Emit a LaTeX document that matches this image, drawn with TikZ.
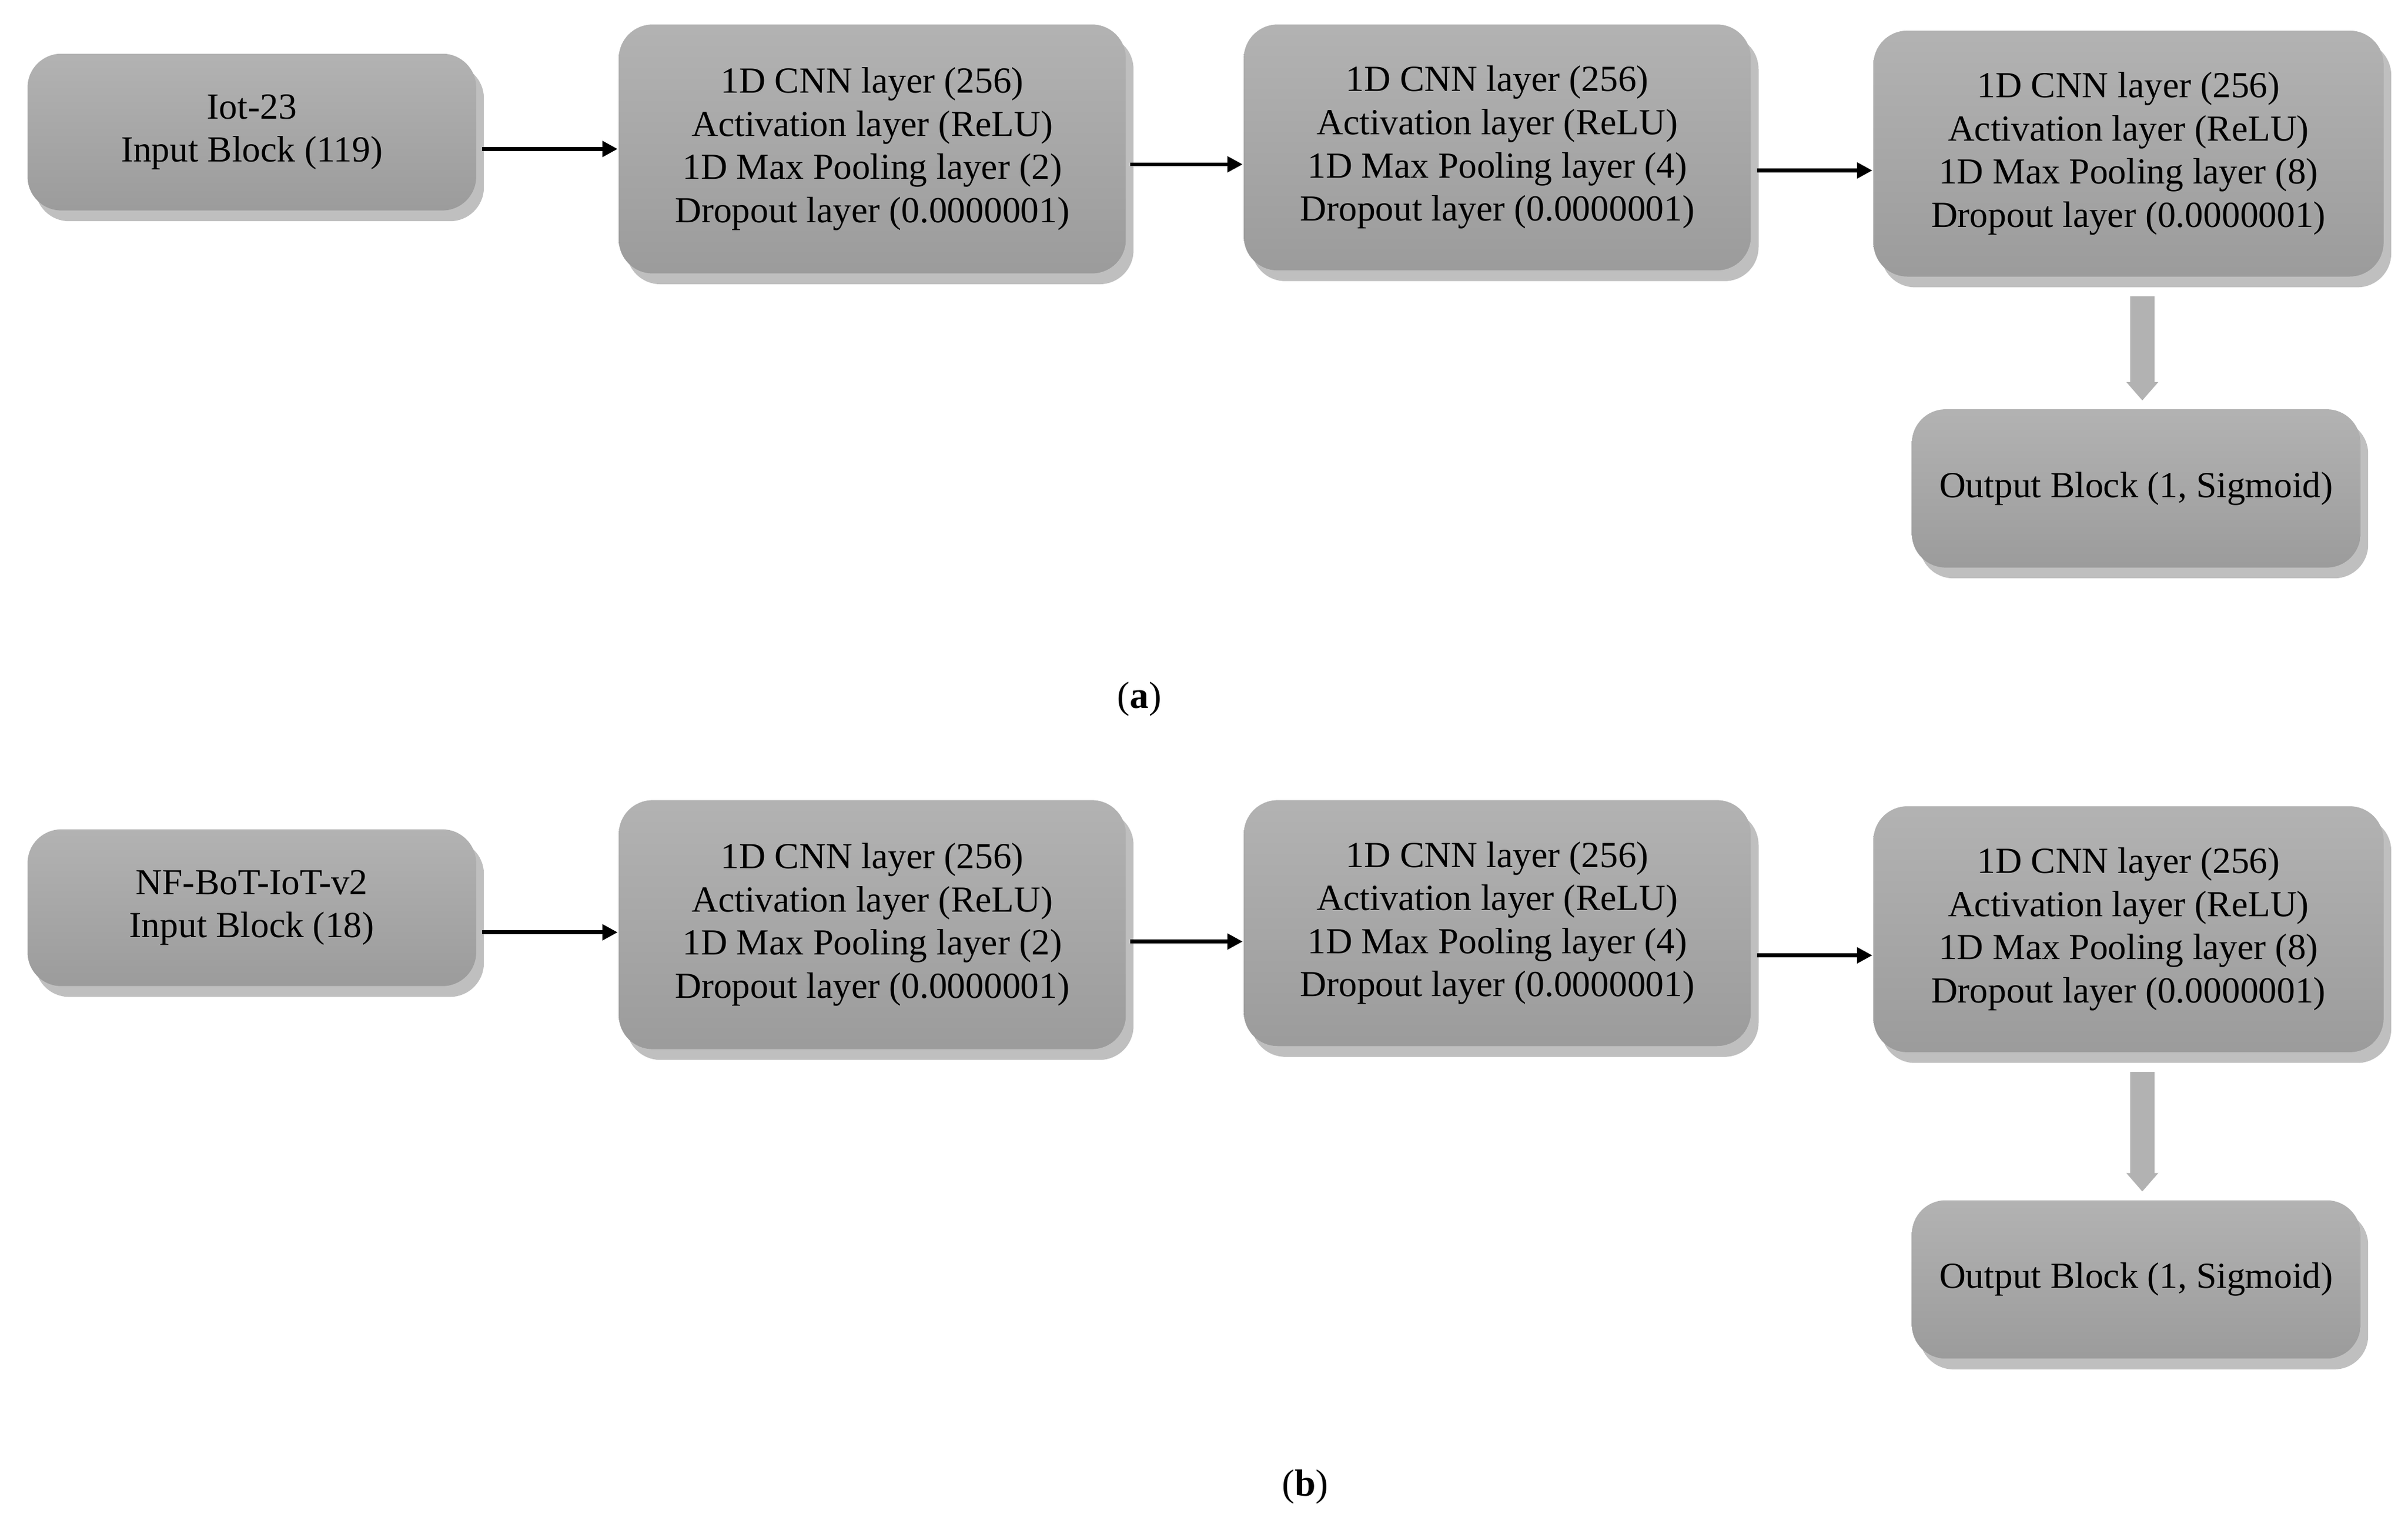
\documentclass[tikz,border=0pt]{standalone}
\usepackage{fontspec}
\setmainfont{Liberation Serif}
\usetikzlibrary{shadows,arrows.meta}
\begin{document}
\begin{tikzpicture}[x=0.01cm,y=-0.01cm,
  blk/.style={rounded corners=0.22cm, top color=gray!60, bottom color=gray!78, draw=none,
    drop shadow={shadow xshift=0.05cm, shadow yshift=-0.07cm, opacity=0.5},
    align=center, font=\fontsize{6.8}{8}\selectfont, inner sep=0pt},
  arr/.style={-{Triangle[length=0.1cm,width=0.1cm]}, line width=0.7pt},
  garr/.style={-{Triangle[length=0.12cm,width=0.2cm]}, line width=4.5pt, draw=gray!60},
  captext/.style={font=\fontsize{7}{8}\selectfont}]
\useasboundingbox (0,0) rectangle (1568,992);
\foreach \r/\dy/\name/\n/\ya/\yb/\yc/\oy/\lab/\lx/\ly in
 {a/0/Iot-23/119/97/107/111/318/a/742/455,
  b/505/NF-BoT-IoT-v2/18/607/613/622/833/b/850/968}{
 \node[blk, minimum width=2.92cm, minimum height=1.02cm] (in\r) at (164,86+\dy) {\name\\Input Block (\n)};
 \node[blk, minimum width=3.3cm, minimum height=1.62cm] (b1\r) at (568,97+\dy) {1D CNN layer (256)\\Activation layer (ReLU)\\1D Max Pooling layer (2)\\Dropout layer (0.0000001)};
 \node[blk, minimum width=3.3cm, minimum height=1.6cm] (b2\r) at (975,96+\dy) {1D CNN layer (256)\\Activation layer (ReLU)\\1D Max Pooling layer (4)\\Dropout layer (0.0000001)};
 \node[blk, minimum width=3.32cm, minimum height=1.6cm] (b3\r) at (1386,100+\dy) {1D CNN layer (256)\\Activation layer (ReLU)\\1D Max Pooling layer (8)\\Dropout layer (0.0000001)};
 \node[blk, minimum width=2.92cm, minimum height=1.03cm] (out\r) at (1391,\oy) {Output Block (1, Sigmoid)};
 \coordinate (s1\r) at (314,\ya);
 \coordinate (s2\r) at (736,\yb);
 \coordinate (s3\r) at (1144,\yc);
 \coordinate (g\r) at (1395,193+\dy);
 \draw[arr] (s1\r) -- (b1\r.west |- s1\r);
 \draw[arr] (s2\r) -- (b2\r.west |- s2\r);
 \draw[arr] (s3\r) -- (b3\r.west |- s3\r);
 \draw[garr] (g\r) -- ([yshift=0.05cm]out\r.north -| g\r);
 \node[captext] (cap\r) at (\lx,\ly) {(\textbf{\lab})};
}
\end{tikzpicture}
\end{document}
